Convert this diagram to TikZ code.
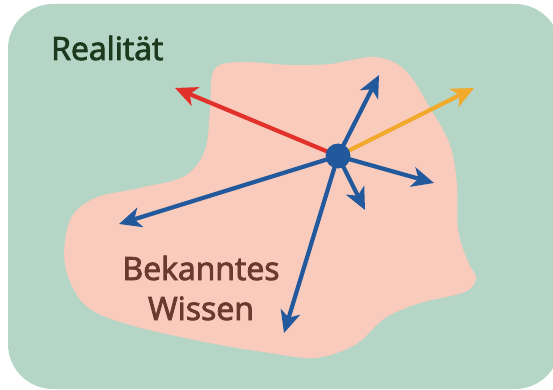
\documentclass[tikz,border=0pt]{standalone}
\usepackage{fontspec}
\setmainfont{Open Sans}
\newfontfamily\lblfont{Open Sans}[FakeBold=2.6]
\usetikzlibrary{arrows.meta}
\definecolor{mint}{HTML}{B5D5C6}
\definecolor{blob}{HTML}{F9CBBD}
\definecolor{arblue}{HTML}{22599C}
\definecolor{arred}{HTML}{E2302A}
\definecolor{arorange}{HTML}{F2AA2C}
\definecolor{txgreen}{HTML}{1E3A1E}
\definecolor{txbrown}{HTML}{6B3A2F}
\begin{document}
\begin{tikzpicture}[x=1pt,y=-1pt,
  arr/.style={line width=4.2pt,-{Stealth[length=22pt,width=20pt,inset=6pt]}},
  lbl/.style={inner sep=0pt,font=\lblfont\fontsize{32}{40}\selectfont}]
\useasboundingbox (0,0) rectangle (553,390);
\fill[white] (0,0) rectangle (553,390);
\fill[mint,rounded corners=45pt] (8,4) rectangle (560,389);
\fill[blob] plot[smooth cycle,tension=0.55] coordinates {
 (214,70) (240,62) (290,65) (330,64) (375,57) (405,70) (430,108) (450,145)
 (457,185) (458,230) (468,262) (476,278) (465,292) (420,303) (385,318)
 (355,345) (315,358) (270,353) (210,343) (130,325) (85,305) (65,265)
 (70,220) (95,198) (140,188) (185,176) (205,150) (210,110)};
\node[lbl,text=txgreen,anchor=base west] (real) at (51,60) {Realität};
\node[lbl,text=txbrown,anchor=base] (bek) at (201,280) {Bekanntes};
\node[lbl,text=txbrown,anchor=base] (wis) at (201,320) {Wissen};
\coordinate (c) at (338,156);
\coordinate (eRed) at (175,88);
\coordinate (eUp) at (379,75);
\coordinate (eOr) at (474,88);
\coordinate (eRight) at (434,183);
\coordinate (eSmall) at (365,210);
\coordinate (eLeft) at (119,224);
\coordinate (eDown) at (284,333);
\draw[arr,arred] (c) -- (eRed);
\draw[arr,arorange] (c) -- (eOr);
\draw[arr,arblue] (c) -- (eUp);
\draw[arr,arblue] (c) -- (eRight);
\draw[arr,arblue] (c) -- (eSmall);
\draw[arr,arblue] (c) -- (eLeft);
\draw[arr,arblue] (c) -- (eDown);
\node[circle,fill=arblue,minimum size=25pt,inner sep=0pt] (dot) at (c) {};
\end{tikzpicture}
\end{document}
